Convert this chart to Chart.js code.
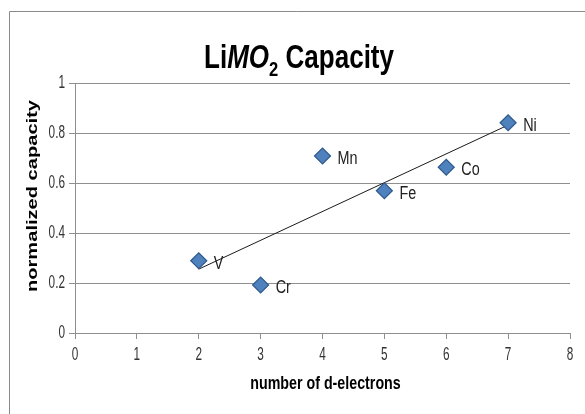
<!DOCTYPE html>
<html>
<head>
<meta charset="utf-8">
<script src="https://cdn.jsdelivr.net/npm/chart.js@4.4.1/dist/chart.umd.min.js"></script>
<style>
  html, body { margin: 0; padding: 0; background: #fff; }
  #wrap { position: relative; width: 585px; height: 414px; }
</style>
</head>
<body>
<div id="wrap"><canvas id="c" width="585" height="414"></canvas></div>
<script>
// ******************************************************** DATA
var metals    = ["V", "Cr", "Mn", "Fe", "Co", "Ni"];
var dElectron = [2, 3, 4, 5, 6, 7];
var capacity  = [0.289, 0.192, 0.708, 0.569, 0.663, 0.841];
var xTicks    = [0, 1, 2, 3, 4, 5, 6, 7, 8];
var yTicks    = [0, 0.2, 0.4, 0.6, 0.8, 1];
var xTitle    = "number of d-electrons";
var yTitle    = "normalized capacity";

// linear trendline (least squares, like Excel)
function trend(xs, ys) {
  var n = xs.length, sx = 0, sy = 0, sxy = 0, sxx = 0;
  for (var i = 0; i < n; i++) { sx += xs[i]; sy += ys[i]; sxy += xs[i] * ys[i]; sxx += xs[i] * xs[i]; }
  var m = (n * sxy - sx * sy) / (n * sxx - sx * sx);
  var b = (sy - m * sx) / n;
  var x0 = Math.min.apply(null, xs), x1 = Math.max.apply(null, xs);
  return [{x: x0, y: m * x0 + b}, {x: x1, y: m * x1 + b}];
}

var points = dElectron.map(function (x, i) { return {x: x, y: capacity[i]}; });

var sans = '"Liberation Sans", Arial, sans-serif';
var gridCol = '#8f8f8f';

// condensed text: draw with a horizontal squeeze
function squeezed(ctx, txt, x, y, font, sx, align) {
  ctx.save();
  ctx.font = font;
  var w = ctx.measureText(txt).width * sx;
  var left = align === 'center' ? x - w / 2 : (align === 'right' ? x - w : x);
  ctx.translate(left, y);
  ctx.scale(sx, 1);
  ctx.textAlign = 'left';
  ctx.fillText(txt, 0, 0);
  ctx.restore();
}

// ******************************************************** PLUGINS
var frame = {
  id: 'frame',
  beforeDraw: function (chart) {
    var ctx = chart.ctx;
    ctx.save();
    ctx.strokeStyle = '#8a8a8a';
    ctx.lineWidth = 1;
    ctx.beginPath();
    ctx.moveTo(9.5, 414); ctx.lineTo(9.5, 11.5); ctx.lineTo(585, 11.5);
    ctx.stroke();
    ctx.restore();
  },
  afterDraw: function (chart) {
    var ctx = chart.ctx;
    var xs = chart.scales.x, ys = chart.scales.y;

    // title "LiMO2 Capacity" (italic M O, subscript 2)
    var parts = [
      {t: 'Li', f: 'bold 33px ' + sans, dy: 0},
      {t: 'MO', f: 'italic bold 33px ' + sans, dy: 0},
      {t: '2', f: 'bold 21px ' + sans, dy: 8},
      {t: ' Capacity', f: 'bold 33px ' + sans, dy: 0}
    ];
    ctx.save();
    var w = 0;
    parts.forEach(function (p) { ctx.font = p.f; p.w = ctx.measureText(p.t).width; w += p.w; });
    var tw = 190;
    ctx.translate(299 - tw / 2, 68);
    ctx.scale(tw / w, 1);
    ctx.fillStyle = '#000';
    var x = 0;
    parts.forEach(function (p) { ctx.font = p.f; ctx.fillText(p.t, x, p.dy); x += p.w; });
    ctx.restore();

    // tick labels
    ctx.save();
    ctx.fillStyle = '#333';
    ctx.textBaseline = 'middle';
    xTicks.forEach(function (v) {
      squeezed(ctx, String(v), xs.getPixelForValue(v), xs.top + 22, '19px ' + sans, 0.62, 'center');
    });
    yTicks.forEach(function (v) {
      squeezed(ctx, String(v), xs.left - 10, ys.getPixelForValue(v), '19px ' + sans, 0.62, 'right');
    });
    ctx.restore();

    // axis titles
    ctx.save();
    ctx.fillStyle = '#000';
    ctx.textBaseline = 'middle';
    squeezed(ctx, xTitle, (xs.left + xs.right) / 2 + 3, 384, 'bold 19px ' + sans, 0.75, 'center');
    ctx.translate(33, (ys.top + ys.bottom) / 2 - 12);
    ctx.rotate(-Math.PI / 2);
    ctx.font = 'bold 14px ' + sans;
    var yw = ctx.measureText(yTitle).width;
    ctx.scale(192 / yw, 1);
    ctx.textAlign = 'center';
    ctx.fillText(yTitle, 0, 0);
    ctx.restore();
  }
};

var pointLabels = {
  id: 'pointLabels',
  afterDatasetsDraw: function (chart) {
    var ctx = chart.ctx;
    var meta = chart.getDatasetMeta(0);
    ctx.save();
    ctx.fillStyle = '#222';
    ctx.textBaseline = 'middle';
    meta.data.forEach(function (el, i) {
      squeezed(ctx, metals[i], el.x + 15, el.y + 3, '18px ' + sans, 0.8, 'left');
    });
    ctx.restore();
  }
};

// ******************************************************** CHART
new Chart(document.getElementById('c').getContext('2d'), {
  type: 'scatter',
  data: {
    datasets: [{
      label: 'capacity',
      data: points,
      pointStyle: 'rectRot',
      pointRadius: 8,
      pointHoverRadius: 8,
      backgroundColor: '#4f81bd',
      borderColor: '#2f5a8c',
      borderWidth: 1.2
    }, {
      type: 'line',
      label: 'trend',
      data: trend(dElectron, capacity),
      borderColor: '#1a1a1a',
      borderWidth: 1,
      pointRadius: 0,
      fill: false
    }]
  },
  options: {
    responsive: false,
    animation: false,
    events: [],
    layout: { padding: { left: 0, top: 83, right: 15, bottom: 0 } },
    plugins: { legend: { display: false }, tooltip: { enabled: false }, title: { display: false } },
    scales: {
      x: {
        type: 'linear', min: 0, max: 8,
        afterBuildTicks: function (s) { s.ticks = xTicks.map(function (v) { return {value: v}; }); },
        afterFit: function (s) { s.height = 81; },
        grid: { drawOnChartArea: false, drawTicks: true, tickLength: 6, color: gridCol },
        border: { color: gridCol },
        ticks: { display: false }
      },
      y: {
        min: 0, max: 1,
        afterBuildTicks: function (s) { s.ticks = yTicks.map(function (v) { return {value: v}; }); },
        afterFit: function (s) { s.width = 75; },
        grid: { color: gridCol, tickLength: 6 },
        border: { color: gridCol },
        ticks: { display: false }
      }
    }
  },
  plugins: [frame, pointLabels]
});
</script>
</body>
</html>
